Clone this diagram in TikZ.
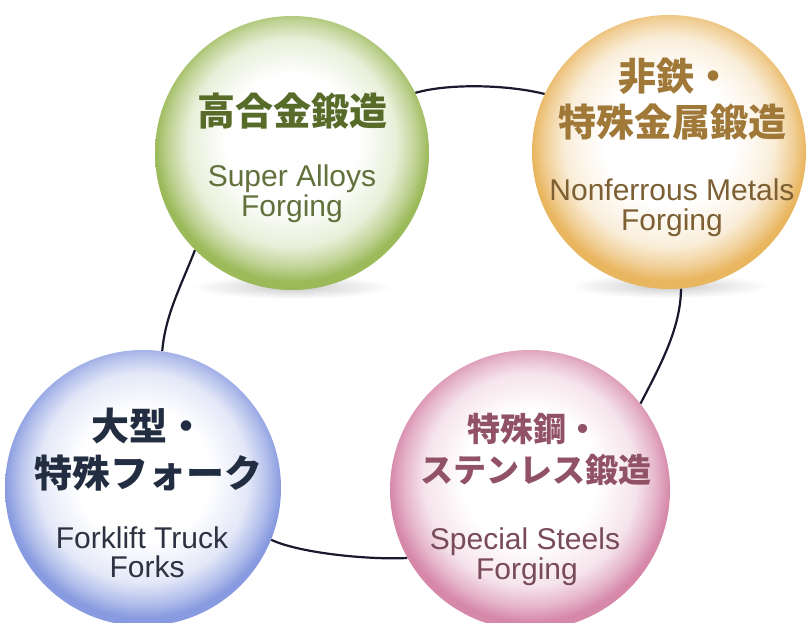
\documentclass[tikz,border=0pt]{standalone}
\usepackage{fontspec}
\setmainfont{Liberation Sans}
\newfontfamily\jp{Noto Sans CJK JP}
\definecolor{gC}{RGB}{150,182,80}
\definecolor{oC}{RGB}{232,178,88}
\definecolor{pC}{RGB}{212,130,165}
\definecolor{bC}{RGB}{130,150,222}
\definecolor{gT}{RGB}{88,108,42}
\definecolor{gE}{RGB}{98,112,60}
\definecolor{oT}{RGB}{160,120,55}
\definecolor{oE}{RGB}{125,95,52}
\definecolor{pT}{RGB}{145,82,102}
\definecolor{pE}{RGB}{120,74,90}
\definecolor{bT}{RGB}{35,45,65}
\definecolor{bE}{RGB}{45,50,66}
\definecolor{lineC}{RGB}{25,25,45}
\pgfdeclareradialshading{sphG}{\pgfpoint{0bp}{3bp}}{color(0bp)=(white); color(12bp)=(white); color(19bp)=(gC!22!white); color(22.5bp)=(gC!60!white); color(25bp)=(gC!95!white); color(50bp)=(gC)}
\pgfdeclareradialshading{sphO}{\pgfpoint{0bp}{3bp}}{color(0bp)=(white); color(12bp)=(white); color(19bp)=(oC!22!white); color(22.5bp)=(oC!60!white); color(25bp)=(oC!95!white); color(50bp)=(oC)}
\pgfdeclareradialshading{sphP}{\pgfpoint{0bp}{3bp}}{color(0bp)=(white); color(12bp)=(white); color(19bp)=(pC!22!white); color(22.5bp)=(pC!60!white); color(25bp)=(pC!95!white); color(50bp)=(pC)}
\pgfdeclareradialshading{sphB}{\pgfpoint{0bp}{3bp}}{color(0bp)=(white); color(12bp)=(white); color(19bp)=(bC!22!white); color(22.5bp)=(bC!60!white); color(25bp)=(bC!95!white); color(50bp)=(bC)}
\pgfdeclareradialshading{shadowshade}{\pgfpoint{0bp}{0bp}}{color(0bp)=(black!22); color(10bp)=(black!12); color(25bp)=(white); color(50bp)=(white)}
\pgfdeclarelayer{background}
\pgfsetlayers{background,main}
\begin{document}
\begin{tikzpicture}[x=1pt,y=-1pt,
  sphere/.style={circle, inner sep=0pt, minimum size=#1},
  ttl/.style={font=\jp\bfseries\fontsize{38}{44}\selectfont, inner sep=0pt},
  ttls/.style={font=\jp\bfseries\fontsize{33}{38}\selectfont, inner sep=0pt},
  eng/.style={font=\fontsize{30}{30}\selectfont, inner sep=0pt, anchor=base},
  link/.style={draw=lineC, line width=2.2pt}]
\useasboundingbox (0,0) rectangle (808,623);
\clip (0,0) rectangle (808,623);
% spheres
\node[sphere=274pt, shading=sphG] (g) at (292,153) {};
\node[sphere=274pt, shading=sphO] (o) at (669,152) {};
\node[sphere=280pt, shading=sphP] (p) at (530,490) {};
\node[sphere=276pt, shading=sphB] (b) at (143,488) {};
% background: white, shadows, connectors
\begin{pgfonlayer}{background}
\fill[white] (0,0) rectangle (808,623);
\path[shading=shadowshade] (292,287) ellipse [x radius=100pt, y radius=12pt];
\path[shading=shadowshade] (669,286) ellipse [x radius=100pt, y radius=12pt];
\draw[link] (g.26) .. controls +(35,-10) and +(-35,-9) .. (o.155);
\draw[link] (g.225) .. controls +(-14,36) and +(3,-36) .. (b.82);
\draw[link] (o.-85) .. controls +(0,40) and +(18,-35) .. (p.38);
\draw[link] (b.-22) .. controls +(30,14) and +(-35,2) .. (p.209);
\end{pgfonlayer}
% green texts
\node[ttl, text=gT] (gt) at (292,111) {高合金鍛造};
\node[eng, text=gE] (ge1) at (292,186) {Super Alloys};
\node[eng, text=gE] (ge2) at (292,216) {Forging};
% orange texts
\node[ttl, text=oT] (ot1) at (675,76) {非鉄・};
\node[ttl, text=oT] (ot2) at (672,122) {特殊金属鍛造};
\node[eng, text=oE] (oe1) at (672,200) {Nonferrous Metals};
\node[eng, text=oE] (oe2) at (672,230) {Forging};
% pink texts
\node[ttls, text=pT] (pt1) at (533,429) {特殊鋼・};
\node[ttls, text=pT] (pt2) at (536,470) {ステンレス鍛造};
\node[eng, text=pE] (pe1) at (525,549) {Special Steels};
\node[eng, text=pE] (pe2) at (527,579) {Forging};
% blue texts
\node[ttl, text=bT] (bt1) at (148,426) {大型・};
\node[ttl, text=bT] (bt2) at (148,473) {特殊フォーク};
\node[eng, text=bE] (be1) at (142,548) {Forklift Truck};
\node[eng, text=bE] (be2) at (147,577) {Forks};
\end{tikzpicture}
\end{document}
